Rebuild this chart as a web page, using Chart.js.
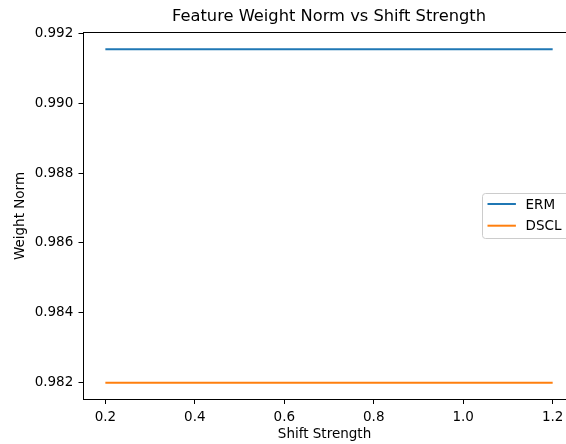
<!DOCTYPE html>
<html>
<head>
<meta charset="utf-8">
<script src="https://cdn.jsdelivr.net/npm/chart.js@4"></script>
<style>
    html, body { margin: 0; padding: 0; background: #fff; overflow: hidden; }
</style>
</head>
<body>
<canvas id="normChart" width="566" height="444"></canvas>
<script>
// values
const shiftStrength = [0.2, 0.4, 0.6, 0.8, 1.0, 1.2];
const ermNorm = [0.99155, 0.99155, 0.99155, 0.99155, 0.99155, 0.99155];
const dsclNorm = [0.98199, 0.98199, 0.98199, 0.98199, 0.98199, 0.98199];
const xTicks = [0.2, 0.4, 0.6, 0.8, 1.0, 1.2];
const yTicks = [0.982, 0.984, 0.986, 0.988, 0.990, 0.992];
const chartTitle = 'Feature Weight Norm vs Shift Strength';

Chart.defaults.font.family = "'DejaVu Sans', sans-serif";
Chart.defaults.color = '#000';

// the original axes run past the right edge of the picture (xlim ~1.25)
const AXES_OVERHANG = 9;

// top spine + title centred over the full (cut off) axes
const frame = {
    id: 'frame',
    afterDraw(chart) {
        const { ctx, chartArea: a } = chart;
        ctx.save();
        ctx.strokeStyle = '#000';
        ctx.lineWidth = 1;
        ctx.beginPath();
        ctx.moveTo(a.left, a.top);
        ctx.lineTo(a.right, a.top);
        ctx.stroke();
        ctx.font = "16.3px 'DejaVu Sans'";
        ctx.fillStyle = '#000';
        ctx.textAlign = 'center';
        ctx.textBaseline = 'middle';
        ctx.fillText(chartTitle, (a.left + a.right + AXES_OVERHANG) / 2, 17);
        ctx.restore();
    }
};

// matplotlib-style legend box at center right of the axes
const boxLegend = {
    id: 'boxLegend',
    afterDraw(chart) {
        const { ctx, chartArea: a } = chart;
        const right = a.right + AXES_OVERHANG - 5.5;
        const left = right - 87;
        const midY = (a.top + a.bottom) / 2;
        const top = midY - 22.5, h = 45;
        ctx.save();
        ctx.beginPath();
        ctx.roundRect(left, top, right - left, h, 3);
        ctx.fillStyle = 'rgba(255,255,255,0.8)';
        ctx.fill();
        ctx.strokeStyle = '#cccccc';
        ctx.lineWidth = 1;
        ctx.stroke();
        ctx.font = "13.5px 'DejaVu Sans'";
        ctx.textBaseline = 'middle';
        ctx.textAlign = 'left';
        chart.data.datasets.forEach((ds, i) => {
            const y = midY - 12 + i * 21.7;
            ctx.strokeStyle = ds.borderColor;
            ctx.lineWidth = 2;
            ctx.beginPath();
            ctx.moveTo(left + 5, y);
            ctx.lineTo(left + 33.4, y);
            ctx.stroke();
            ctx.fillStyle = '#000';
            ctx.fillText(ds.label, left + 43, y + 1);
        });
        ctx.restore();
    }
};

const ctx = document.getElementById('normChart').getContext('2d');

new Chart(ctx, {
    type: 'line',
    data: {
        datasets: [{
            label: 'ERM',
            data: shiftStrength.map((x, i) => ({ x: x, y: ermNorm[i] })),
            borderColor: '#1f77b4',
            borderWidth: 2,
            pointRadius: 0,
            tension: 0
        }, {
            label: 'DSCL',
            data: shiftStrength.map((x, i) => ({ x: x, y: dsclNorm[i] })),
            borderColor: '#ff7f0e',
            borderWidth: 2,
            pointRadius: 0,
            tension: 0
        }]
    },
    options: {
        responsive: false,
        animation: false,
        layout: { padding: { left: 0, right: 0, top: 32.5, bottom: 0 } },
        scales: {
            x: {
                type: 'linear',
                min: 0.15,
                max: 1.2298,
                afterFit: (s) => { s.height = 44.5; s.paddingLeft = 0; s.paddingRight = 0; },
                afterBuildTicks: (s) => { s.ticks = xTicks.map(v => ({ value: v })); },
                grid: { drawOnChartArea: false, drawTicks: true, tickLength: 4.5, tickColor: '#000' },
                border: { display: true, color: '#000', width: 1 },
                ticks: {
                    maxRotation: 0,
                    padding: 5,
                    font: { size: 13.5 },
                    callback: (v) => v.toFixed(1)
                },
                title: { display: true, text: 'Shift Strength', font: { size: 13.5 }, padding: 1 }
            },
            y: {
                type: 'linear',
                min: 0.98151,
                max: 0.99203,
                afterFit: (s) => { s.width = 83; s.paddingTop = 0; s.paddingBottom = 0; },
                afterBuildTicks: (s) => { s.ticks = yTicks.map(v => ({ value: v })); },
                grid: { drawOnChartArea: false, drawTicks: true, tickLength: 4.5, tickColor: '#000' },
                border: { display: true, color: '#000', width: 1 },
                ticks: {
                    padding: 5.2,
                    font: { size: 13.5 },
                    callback: (v) => v.toFixed(3)
                },
                title: { display: true, text: 'Weight Norm', font: { size: 13.5 }, padding: 12 }
            }
        },
        plugins: {
            legend: { display: false },
            tooltip: { enabled: false },
            title: { display: false }
        }
    },
    plugins: [frame, boxLegend]
});
</script>
</body>
</html>
